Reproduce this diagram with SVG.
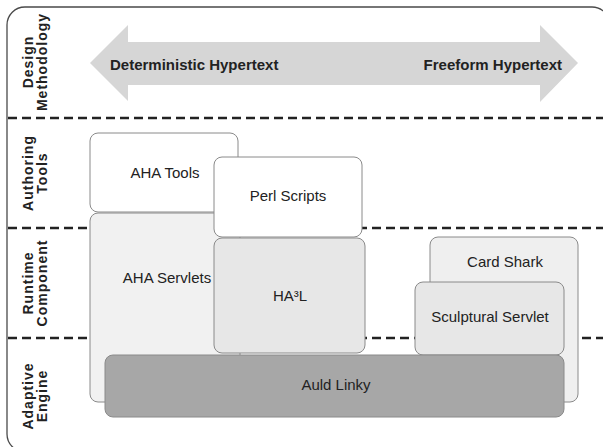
<svg xmlns="http://www.w3.org/2000/svg" width="603" height="447" viewBox="0 0 603 447">
<style>
.frame{fill:none;stroke:#4a4a4a;stroke-width:1.3}
.dash{stroke:#222;stroke-width:2.4;stroke-dasharray:9 5;fill:none}
.box{stroke:#8a8a8a;stroke-width:1}
.lbl{font-family:"Liberation Sans",Arial,sans-serif;font-size:15px;fill:#222;text-anchor:middle}
.row{font-family:"Liberation Sans",Arial,sans-serif;font-size:14px;font-weight:bold;fill:#222;text-anchor:middle;letter-spacing:1px}
.arr{font-family:"Liberation Sans",Arial,sans-serif;font-size:15px;font-weight:bold;fill:#222}
</style>
<rect width="603" height="447" fill="#fff"/>
<rect class="frame" x="7" y="7" width="603" height="445" rx="18"/>
<g id="dividers">
<line class="dash" x1="8" y1="118" x2="603" y2="118"/>
<line class="dash" x1="8" y1="228" x2="603" y2="228"/>
<line class="dash" x1="8" y1="338" x2="603" y2="338"/>
</g>
<g id="row-labels">
<text class="row" transform="rotate(-90)"><tspan x="-62" y="33">Design</tspan><tspan x="-62" y="47">Methodology</tspan></text>
<text class="row" transform="rotate(-90)"><tspan x="-173" y="33">Authoring</tspan><tspan x="-173" y="47">Tools</tspan></text>
<text class="row" transform="rotate(-90)"><tspan x="-283" y="33">Runtime</tspan><tspan x="-283" y="47">Component</tspan></text>
<text class="row" transform="rotate(-90)"><tspan x="-396" y="33">Adaptive</tspan><tspan x="-396" y="47">Engine</tspan></text>
</g>
<g id="methodology-arrow">
<polygon points="90,63 128,25 128,42 540,42 540,25 578,63 540,102 540,85 128,85 128,101" fill="#d6d6d6"/>
<text class="arr" x="110" y="70">Deterministic Hypertext</text>
<text class="arr" x="562" y="70" text-anchor="end">Freeform Hypertext</text>
</g>
<g id="aha-servlets"><rect class="box" x="90" y="213" width="150" height="189" rx="8" fill="#f1f1f1"/><text class="lbl" x="167" y="283">AHA Servlets</text></g>
<g id="aha-tools"><rect class="box" x="90" y="133" width="148" height="79" rx="8" fill="#fff"/><text class="lbl" x="165" y="178">AHA Tools</text></g>
<g id="perl-scripts"><rect class="box" x="214" y="157" width="148" height="80" rx="8" fill="#fff"/><text class="lbl" x="288" y="201">Perl Scripts</text></g>
<g id="ha3l"><rect class="box" x="214" y="238" width="151" height="115" rx="8" fill="#e7e7e7"/><text class="lbl" x="290" y="301">HA³L</text></g>
<g id="card-shark"><rect class="box" x="430" y="237" width="148" height="165" rx="8" fill="#efefef"/><text class="lbl" x="505" y="267">Card Shark</text></g>
<g id="sculptural-servlet"><rect class="box" x="415" y="282" width="149" height="73" rx="8" fill="#e7e7e7"/><text class="lbl" x="490" y="322">Sculptural Servlet</text></g>
<g id="auld-linky"><rect class="box" x="105" y="355" width="459" height="62" rx="8" fill="#a7a7a7"/><text class="lbl" x="336" y="390">Auld Linky</text></g>
<g id="connectors"/>
</svg>
